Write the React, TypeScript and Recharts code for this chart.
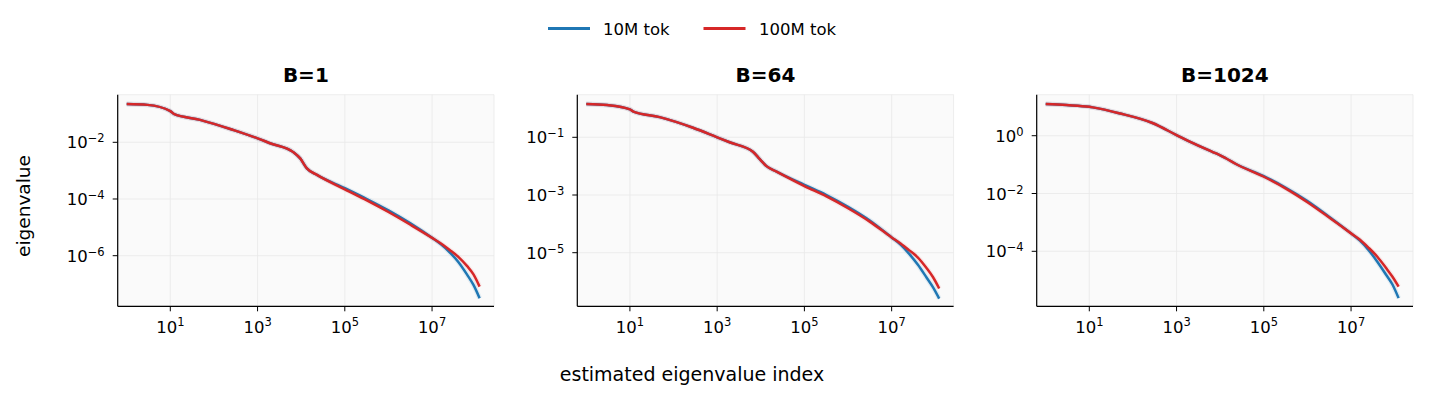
import React from "react";
import { ComposedChart, Line, XAxis, YAxis, CartesianGrid } from "recharts";

// estimated eigenvalue index (x, shared by all panels)
const eigIndex = [1, 3, 10, 12, 48, 280, 1000, 2000, 6600, 9500, 13500, 23000, 1e5, 3.2e5, 1e6, 3.2e6, 1e7, 1.6e7, 2.5e7, 4e7, 6.3e7, 8.9e7, 1.23e8];

// B=1
const b1Tok10M = [2.24e-1, 2.09e-1, 1.26e-1, 1.0e-1, 6.2e-2, 2.7e-2, 1.38e-2, 9.1e-3, 4.5e-3, 2.7e-3, 1.2e-3, 7.1e-4, 2.4e-4, 1.0e-4, 3.98e-5, 1.38e-5, 4.27e-6, 2.51e-6, 1.35e-6, 6.0e-7, 2.19e-7, 9.3e-8, 3.16e-8];
const b1Tok100M = [2.24e-1, 2.09e-1, 1.26e-1, 1.0e-1, 6.2e-2, 2.7e-2, 1.38e-2, 9.1e-3, 4.5e-3, 2.7e-3, 1.2e-3, 7.1e-4, 2.19e-4, 8.9e-5, 3.47e-5, 1.23e-5, 4.27e-6, 2.69e-6, 1.62e-6, 9.1e-7, 4.37e-7, 2.19e-7, 8.1e-8];

// B=64
const b64Tok10M = [1.43, 1.31, 0.93, 0.78, 0.5, 0.214, 0.1, 0.066, 0.0316, 0.0174, 0.01, 0.00646, 2.24e-3, 1.0e-3, 3.9e-4, 1.29e-4, 3.39e-5, 1.91e-5, 9.3e-6, 3.8e-6, 1.38e-6, 6.3e-7, 2.57e-7];
const b64Tok100M = [1.43, 1.31, 0.93, 0.78, 0.5, 0.214, 0.1, 0.066, 0.0316, 0.0174, 0.01, 0.00646, 2.04e-3, 8.9e-4, 3.47e-4, 1.17e-4, 3.39e-5, 2.09e-5, 1.23e-5, 6.8e-6, 2.95e-6, 1.41e-6, 5.75e-7];

// B=1024
const b1024Tok10M = [12.5, 11.5, 10.0, 9.55, 6.0, 2.75, 1.05, 0.62, 0.277, 0.219, 0.166, 0.105, 0.0398, 0.0158, 5.5e-3, 1.55e-3, 4.17e-4, 2.34e-4, 1.12e-4, 4.37e-5, 1.58e-5, 7.1e-6, 2.4e-6];
const b1024Tok100M = [12.5, 11.5, 10.0, 9.55, 6.0, 2.75, 1.05, 0.62, 0.277, 0.219, 0.166, 0.105, 0.038, 0.0148, 5.0e-3, 1.45e-3, 4.17e-4, 2.51e-4, 1.35e-4, 6.5e-5, 2.69e-5, 1.32e-5, 6.0e-6];

const xTicks = [10, 1e3, 1e5, 1e7];
const seriesNames = ["10M tok", "100M tok"];

const BLUE = "#1f77b4";
const RED = "#d62728";
const W = 1431;
const H = 405;
const PLOT_TOP = 94.7;
const PLOT_BOTTOM = 306.3;
const PLOT_W = 376.3;
const X_DOMAIN = [10 ** -0.206, 10 ** 8.42];

const panels = [
  { title: "B=1", left: 117.7, a: b1Tok10M, b: b1Tok100M, yTicks: [1e-2, 1e-4, 1e-6], yDomain: [10 ** -7.785, 10 ** -0.321] },
  { title: "B=64", left: 577.3, a: b64Tok10M, b: b64Tok100M, yTicks: [1e-1, 1e-3, 1e-5], yDomain: [10 ** -6.858, 10 ** 0.477] },
  { title: "B=1024", left: 1036.7, a: b1024Tok10M, b: b1024Tok100M, yTicks: [1, 1e-2, 1e-4], yDomain: [10 ** -5.903, 10 ** 1.419] },
];

function expLabel(v: number) {
  const e = Math.round(Math.log10(v));
  return e < 0 ? "\u2212" + Math.abs(e) : String(e);
}

function XTick({ x, y, payload }: any) {
  return (
    <text x={x} y={y + 19.5} textAnchor="middle" fontSize={16.5} fill="#000">
      <tspan>10</tspan>
      <tspan dy={-7} fontSize={11.5}>{expLabel(payload.value)}</tspan>
    </text>
  );
}

function YTick({ x, y, payload }: any) {
  return (
    <text x={x} y={y + 6} textAnchor="end" fontSize={16.5} fill="#000">
      <tspan>10</tspan>
      <tspan dy={-6} fontSize={11.5}>{expLabel(payload.value)}</tspan>
    </text>
  );
}

function Panel({ p }: { p: (typeof panels)[number] }) {
  const data = eigIndex.map((idx, i) => ({ idx, tok10M: p.a[i], tok100M: p.b[i] }));
  const margin = {
    top: PLOT_TOP,
    left: p.left - 60,
    right: W - (p.left + PLOT_W),
    bottom: H - PLOT_BOTTOM - 40,
  };
  return (
    <div style={{ position: "absolute", left: 0, top: 0 }}>
      <ComposedChart width={W} height={H} data={data} margin={margin}>
        <CartesianGrid fill="#fafafa" fillOpacity={1} stroke="#e8e8e8" strokeWidth={0.8} />
        <XAxis
          dataKey="idx"
          type="number"
          scale="log"
          domain={X_DOMAIN}
          allowDataOverflow
          ticks={xTicks}
          tick={<XTick />}
          tickSize={5}
          tickMargin={2}
          height={40}
          axisLine={{ stroke: "#000", strokeWidth: 1.2 }}
          tickLine={{ stroke: "#000", strokeWidth: 1 }}
        />
        <YAxis
          type="number"
          scale="log"
          domain={p.yDomain}
          allowDataOverflow
          ticks={p.yTicks}
          tick={<YTick />}
          tickSize={5}
          tickMargin={8}
          width={60}
          axisLine={{ stroke: "#000", strokeWidth: 1.2 }}
          tickLine={{ stroke: "#000", strokeWidth: 1 }}
        />
        <Line dataKey="tok10M" type="monotone" stroke={BLUE} strokeOpacity={0.1} strokeWidth={5} dot={false} isAnimationActive={false} />
        <Line dataKey="tok10M" type="monotone" stroke={BLUE} strokeWidth={2.5} dot={false} isAnimationActive={false} />
        <Line dataKey="tok100M" type="monotone" stroke={RED} strokeOpacity={0.08} strokeWidth={5} dot={false} isAnimationActive={false} />
        <Line dataKey="tok100M" type="monotone" stroke={RED} strokeWidth={2.5} dot={false} isAnimationActive={false} />
      </ComposedChart>
    </div>
  );
}

export default function App() {
  return (
    <div style={{ position: "absolute", left: 0, top: 0, width: W, height: H, background: "#fff", fontFamily: "'DejaVu Sans', sans-serif" }}>
      {panels.map((p) => (
        <Panel key={p.title} p={p} />
      ))}
      <svg width={W} height={H} style={{ position: "absolute", left: 0, top: 0, pointerEvents: "none" }}>
        {panels.map((p) => (
          <text key={p.title} x={p.left + PLOT_W / 2} y={81.5} textAnchor="middle" fontSize={20} fontWeight="bold" fill="#000">
            {p.title}
          </text>
        ))}
        <line x1={548} x2={590} y1={28.5} y2={28.5} stroke={BLUE} strokeWidth={2.8} />
        <text x={603} y={35} fontSize={16.5} fill="#000">{seriesNames[0]}</text>
        <line x1={703.5} x2={745.5} y1={28.5} y2={28.5} stroke={RED} strokeWidth={2.8} />
        <text x={759} y={35} fontSize={16.5} fill="#000">{seriesNames[1]}</text>
        <text x={692} y={381} textAnchor="middle" fontSize={19} fill="#000">estimated eigenvalue index</text>
        <text x={30} y={206} textAnchor="middle" fontSize={18.5} fill="#000" transform="rotate(-90 30 206)">eigenvalue</text>
      </svg>
    </div>
  );
}
